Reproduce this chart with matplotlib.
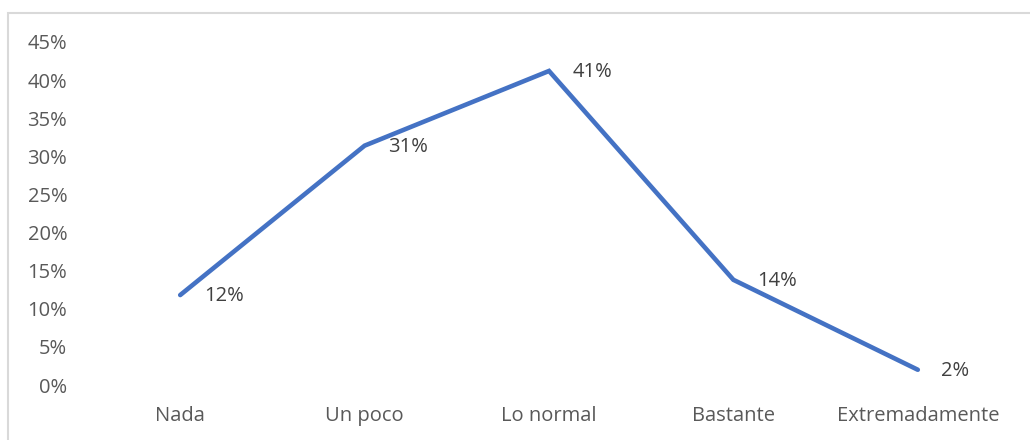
import matplotlib
matplotlib.use("Agg")
import matplotlib.pyplot as plt
from matplotlib.patches import Rectangle
from matplotlib.ticker import PercentFormatter, MultipleLocator

categories = ["Nada", "Un poco", "Lo normal", "Bastante", "Extremadamente"]
values = [0.118, 0.314, 0.412, 0.138, 0.02]

W, H = 1030, 440
fig = plt.figure(figsize=(W / 100, H / 100), dpi=100)
plt.rcParams["font.family"] = ["Open Sans", "DejaVu Sans"]

# light frame around the chart area
fig.patches.append(Rectangle((8 / W, -0.1), 1.2, (H - 13) / H + 0.1,
                             transform=fig.transFigure, fill=False,
                             edgecolor="#d9d9d9", linewidth=1.5))

ax = fig.add_axes([88 / W, (H - 385) / H, (1010 - 88) / W, (385 - 42) / H])
x = range(len(categories))
ax.plot(x, values, color="#4472C4", linewidth=3.3, solid_capstyle="round",
        solid_joinstyle="miter")

for xi, v in zip(x, values):
    ax.annotate(f"{v * 100:.0f}%", (xi, v), xytext=(17, -1),
                textcoords="offset points", ha="left", va="center",
                fontsize=14.5, color="#404040")

ax.set_xlim(-0.5, len(categories) - 0.5)
ax.set_ylim(0, 0.45)
ax.yaxis.set_major_locator(MultipleLocator(0.05))
ax.yaxis.set_major_formatter(PercentFormatter(1.0, decimals=0))
ax.set_xticks(list(x))
ax.set_xticklabels(categories)
ax.tick_params(axis="both", length=0, labelsize=14.5, labelcolor="#595959")
ax.tick_params(axis="y", pad=15)
ax.tick_params(axis="x", pad=15)
for s in ax.spines.values():
    s.set_visible(False)

fig.savefig("out.png", dpi=100)
